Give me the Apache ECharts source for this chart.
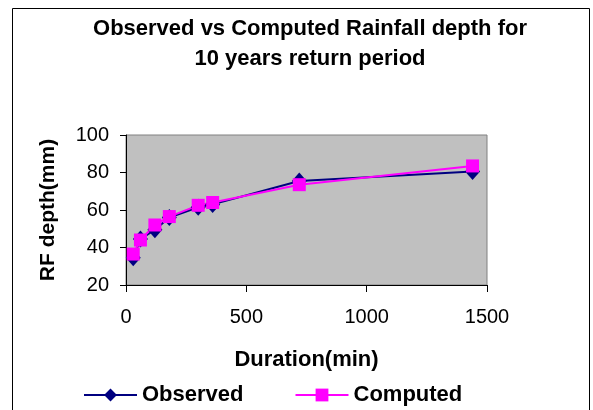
<!DOCTYPE html>
<html>
<head>
<meta charset="utf-8">
<script src="https://cdn.jsdelivr.net/npm/echarts@6/dist/echarts.min.js"></script>
<style>
html,body{margin:0;padding:0;background:#fff;}
#chart{width:593px;height:410px;}
</style>
</head>
<body>
<div id="chart"></div>
<script>
const durations = [30, 60, 120, 180, 300, 360, 720, 1440];
const observed = [34.5, 44.5, 49.5, 56, 61.5, 63, 75.5, 80.5];
const computed = [36.5, 44, 52, 56.5, 62.5, 64, 73.5, 83.5];
const xTicks = [0, 500, 1000, 1500];
const yTicks = [20, 40, 60, 80, 100];

const FONT = '"Liberation Sans", Arial, sans-serif';
const chart = echarts.init(document.getElementById('chart'), null, {renderer: 'canvas'});

function pairs(xs, ys) { return xs.map((x, i) => [x, ys[i]]); }

chart.setOption({
  animation: false,
  backgroundColor: '#ffffff',
  title: {
    text: 'Observed vs Computed Rainfall depth for\n10 years return period',
    left: 305,
    top: 9,
    textAlign: 'center',
    textStyle: {fontFamily: FONT, fontSize: 22, fontWeight: 'bold', color: '#000', lineHeight: 30}
  },
  graphic: [{
    type: 'rect', silent: true, z: -1,
    shape: {x: 12.5, y: 8.5, width: 577, height: 420},
    style: {fill: 'none', stroke: '#000', lineWidth: 1}
  }],
  legend: {
    left: 78,
    top: 379,
    itemWidth: 53,
    itemHeight: 16,
    itemGap: 51,
    textStyle: {fontFamily: FONT, fontSize: 22, fontWeight: 'bold', color: '#000'},
    data: ['Observed', 'Computed']
  },
  grid: {
    left: 126, top: 135, width: 361, height: 150,
    show: true, backgroundColor: '#C0C0C0', borderColor: '#808080', borderWidth: 1
  },
  xAxis: {
    type: 'value', min: xTicks[0], max: xTicks[xTicks.length - 1], interval: 500,
    name: 'Duration(min)', nameLocation: 'middle', nameGap: 64,
    nameTextStyle: {fontFamily: FONT, fontSize: 22, fontWeight: 'bold', color: '#000'},
    axisLine: {show: true, lineStyle: {color: '#000', width: 1}},
    axisTick: {show: true, inside: false, length: 7, lineStyle: {color: '#000'}},
    axisLabel: {fontFamily: FONT, fontSize: 20, color: '#000', margin: 22, formatter: v => String(v)},
    splitLine: {show: false}
  },
  yAxis: {
    type: 'value', min: yTicks[0], max: yTicks[yTicks.length - 1], interval: 20,
    name: 'RF depth(mm)', nameLocation: 'middle', nameGap: 67,
    nameTextStyle: {fontFamily: FONT, fontSize: 21, fontWeight: 'bold', color: '#000'},
    axisLine: {show: true, lineStyle: {color: '#000', width: 1}},
    axisTick: {show: true, inside: false, length: 6, lineStyle: {color: '#000'}},
    axisLabel: {fontFamily: FONT, fontSize: 20, color: '#000', margin: 17, formatter: v => String(v)},
    splitLine: {show: false}
  },
  series: [
    {
      name: 'Observed', type: 'line', data: pairs(durations, observed),
      symbol: 'diamond', symbolSize: [15, 17],
      lineStyle: {color: '#000080', width: 2},
      itemStyle: {color: '#000080'}
    },
    {
      name: 'Computed', type: 'line', data: pairs(durations, computed),
      symbol: 'rect', symbolSize: 13,
      lineStyle: {color: '#FF00FF', width: 2},
      itemStyle: {color: '#FF00FF'}
    }
  ]
});
</script>
</body>
</html>
